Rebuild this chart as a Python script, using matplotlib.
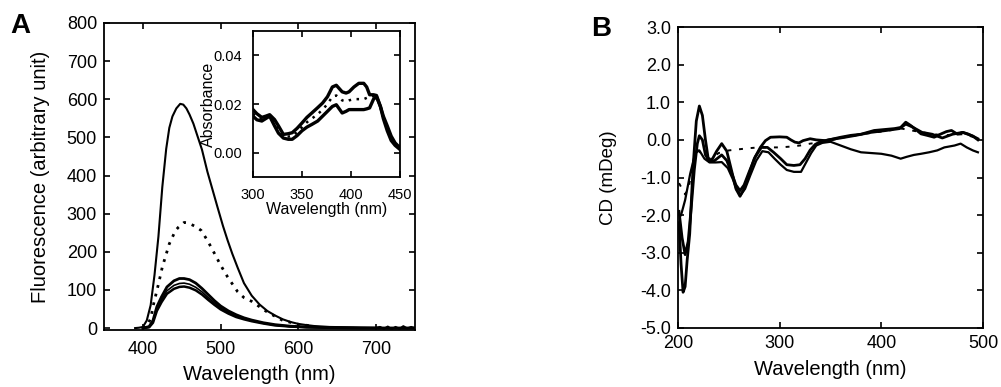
import matplotlib
matplotlib.use("Agg")
import matplotlib.pyplot as plt

plt.rcParams.update({
    "font.family": ["Liberation Sans", "DejaVu Sans"],
    "axes.linewidth": 1.3,
    "xtick.direction": "in",
    "ytick.direction": "in",
    "xtick.major.size": 4.5,
    "ytick.major.size": 4.5,
    "xtick.major.width": 1.2,
    "ytick.major.width": 1.2,
})

# ---- Panel A: fluorescence emission ----
wl_big = [390, 395, 400, 405, 410, 415, 420, 425, 430, 434, 438, 443, 448, 452, 456, 460,
          465, 470, 476, 483, 490, 496, 503, 509, 515, 522, 530, 540, 550, 560, 570, 580,
          590, 600, 610, 620, 640, 670, 700, 705, 710, 715, 720, 725, 730, 735, 740, 745, 750]
fl_big = [0, 1, 3, 20, 60, 140, 240, 370, 470, 525, 555, 576, 588, 586, 576, 560,
          536, 505, 468, 410, 360, 317, 268, 230, 195, 158, 118, 85, 62, 45, 33, 23,
          16, 11, 8, 5.5, 3, 2, 1, 3, -2, 4, -3, 3, -2, 5, -1, 3, 0]

wl_dot = [400, 405, 410, 414, 420, 425, 434, 442, 446, 453, 458, 462, 468, 475, 483, 492,
          500, 509, 522, 530, 540, 550, 560, 580, 600, 620]
fl_dot = [0, 5, 25, 65, 115, 160, 221, 256, 265, 277, 276, 272, 266, 256, 230, 196,
          165, 134, 95, 80, 70, 56, 42, 20, 10, 5]

wl_low = [400, 408, 413, 418, 424, 431, 440, 447, 453, 460, 468, 476, 484, 492, 500, 510,
          520, 530, 540, 555, 570, 590, 610, 640, 680, 720, 750]
fl_low1 = [0, 4, 20, 56, 82, 108, 124, 130, 130, 127, 118, 104, 88, 72, 58, 45,
           35, 27, 21, 14, 9, 5, 3, 1, 0, 0, 0]
fl_low2 = [0, 3, 17, 50, 74, 98, 112, 117, 118, 115, 107, 95, 80, 66, 53, 41,
           32, 25, 19, 13, 8, 4, 2, 1, 0, 0, 0]
fl_low3 = [0, 2, 14, 45, 68, 90, 103, 108, 109, 106, 99, 88, 74, 61, 49, 38,
           29, 23, 18, 12, 7, 4, 2, 1, 0, 0, 0]

# ---- Inset: absorbance ----
wl_abs = [300, 304, 309, 313, 317, 322, 326, 331, 336, 340, 345, 350, 355, 360, 366, 371,
          376, 381, 385, 391, 395, 398, 403, 408, 413, 416, 419, 423, 426, 430, 433, 437,
          441, 445, 450]
abs_up = [0.0177, 0.016, 0.0145, 0.015, 0.0156, 0.0136, 0.011, 0.0075, 0.0078, 0.0082,
          0.010, 0.0122, 0.0145, 0.0163, 0.0185, 0.0204, 0.023, 0.027, 0.0277, 0.025,
          0.0245, 0.025, 0.027, 0.0285, 0.0285, 0.027, 0.0238, 0.0238, 0.0235, 0.019,
          0.015, 0.011, 0.0068, 0.004, 0.002]
abs_lo = [0.015, 0.0135, 0.013, 0.014, 0.015, 0.011, 0.008, 0.006, 0.0055, 0.0055,
          0.007, 0.009, 0.0105, 0.0116, 0.013, 0.015, 0.017, 0.019, 0.0197, 0.0163,
          0.017, 0.0177, 0.0177, 0.0177, 0.0177, 0.018, 0.0184, 0.022, 0.023, 0.019,
          0.014, 0.009, 0.005, 0.003, 0.0013]
abs_dot = [0.016, 0.015, 0.0138, 0.0145, 0.0153, 0.0123, 0.0095, 0.0068, 0.0066, 0.0068,
           0.0085, 0.0105, 0.0125, 0.014, 0.0158, 0.0177, 0.020, 0.023, 0.0235, 0.0215,
           0.021, 0.0215, 0.022, 0.022, 0.022, 0.0225, 0.023, 0.0232, 0.023, 0.019,
           0.0145, 0.010, 0.006, 0.0035, 0.0017]

# ---- Panel B: CD spectra ----
wl_cd1 = [201, 203, 205, 207, 209, 211.5, 214.8, 218, 221, 224, 227, 230, 234, 238, 243,
          248, 253, 257, 261, 265, 270, 275, 281, 286, 291, 300, 307, 311, 315, 319, 323,
          330, 336, 345, 360, 370, 380, 393, 405, 413, 419, 424, 429, 435, 439, 445, 452,
          458, 464, 469, 475, 480, 485, 490, 495]
cd1 = [-2.2, -3.3, -4.05, -3.9, -3.2, -2.5, -0.73, 0.5, 0.9, 0.65, 0.0, -0.55, -0.5, -0.3,
       -0.1, -0.3, -0.85, -1.3, -1.5, -1.3, -0.9, -0.5, -0.2, -0.02, 0.07, 0.08, 0.07, 0.0,
       -0.06, -0.08, -0.02, 0.03, 0.0, -0.02, 0.07, 0.12, 0.15, 0.25, 0.28, 0.3, 0.33, 0.47,
       0.38, 0.25, 0.16, 0.12, 0.07, 0.15, 0.22, 0.25, 0.15, 0.2, 0.16, 0.1, 0.03]

wl_cd2 = [201, 204, 207, 210, 213, 216, 219, 221, 224, 227, 231, 236, 243, 248, 253, 257,
          261, 265, 270, 276, 282, 288, 294, 301, 307, 314, 320, 325, 330, 335, 340, 348,
          360, 375, 390, 405, 418, 424, 430, 440, 450, 460, 470, 480, 490, 495]
cd2 = [-1.9, -2.6, -3.05, -2.7, -1.8, -0.8, -0.1, 0.11, 0.0, -0.4, -0.58, -0.55, -0.4,
       -0.55, -0.9, -1.2, -1.35, -1.2, -0.85, -0.45, -0.2, -0.2, -0.33, -0.5, -0.66, -0.68,
       -0.66, -0.5, -0.27, -0.12, -0.05, 0.0, 0.05, 0.12, 0.2, 0.25, 0.3, 0.42, 0.35, 0.2,
       0.15, 0.05, 0.15, 0.2, 0.1, 0.0]

wl_cd3 = [203, 207, 212, 217, 221, 226, 231, 237, 243, 249, 254, 258, 262, 266, 271, 277,
          283, 289, 295, 301, 307, 314, 321, 326, 331, 336, 342, 350, 360, 370, 380, 390,
          400, 410, 419, 425, 432, 439, 447, 455, 462, 472, 478, 484, 490, 495]
cd3 = [-2.0, -1.6, -0.9, -0.35, -0.28, -0.5, -0.6, -0.6, -0.59, -0.75, -1.05, -1.35, -1.45,
       -1.3, -0.95, -0.55, -0.3, -0.33, -0.5, -0.66, -0.8, -0.85, -0.85, -0.6, -0.35, -0.15,
       -0.08, -0.05, -0.15, -0.25, -0.33, -0.35, -0.37, -0.42, -0.5, -0.45, -0.4, -0.37,
       -0.33, -0.28, -0.2, -0.15, -0.1, -0.2, -0.28, -0.33]

wl_cd4 = [201, 204, 207, 211, 215, 220, 226, 232, 240, 250, 260, 270, 280, 290, 300, 310,
          320, 330, 345, 360, 380, 400, 420, 440, 460, 480, 495]
cd4 = [-1.15, -1.3, -1.45, -1.2, -0.6, -0.28, -0.45, -0.5, -0.35, -0.28, -0.25, -0.22,
       -0.2, -0.2, -0.2, -0.18, -0.15, -0.1, -0.05, 0.05, 0.15, 0.22, 0.3, 0.2, 0.12, 0.15,
       0.05]

W, H = 1001, 387
fig = plt.figure(figsize=(W / 100, H / 100), dpi=100)

def box(x0, y0, x1, y1):
    # pixel box (top-left origin) -> figure fraction rect
    return [x0 / W, 1 - y1 / H, (x1 - x0) / W, (y1 - y0) / H]

dots = (0, (1, 2.2))

# Panel A
ax = fig.add_axes(box(104, 23, 415, 330))
ax.plot(wl_big, fl_big, color="black", lw=1.5)
ax.plot(wl_dot, fl_dot, color="black", lw=2, linestyle=dots)
ax.plot(wl_low, fl_low1, color="black", lw=2.0)
ax.plot(wl_low, fl_low2, color="black", lw=1.2)
ax.plot(wl_low, fl_low3, color="black", lw=1.8)
ax.set_xlim(350, 750)
ax.set_ylim(-5, 800)
ax.set_xticks([400, 500, 600, 700])
ax.set_yticks(range(0, 801, 100))
ax.tick_params(top=True, right=True, labelsize=13, pad=5)
ax.tick_params(axis="x", pad=8)
ax.set_xlabel("Wavelength (nm)", fontsize=14.5, labelpad=5)
ax.set_ylabel("Fluorescence (arbitrary unit)", fontsize=14.5, labelpad=12)
fig.text(10 / W, 1 - 33 / H, "A", fontsize=20, fontweight="bold", ha="left", va="baseline")

# Inset
axi = fig.add_axes(box(253, 31, 400, 177))
axi.plot(wl_abs, abs_up, color="black", lw=2.4)
axi.plot(wl_abs, abs_lo, color="black", lw=2.4)
axi.plot(wl_abs, abs_dot, color="black", lw=1.8, linestyle=dots)
axi.set_xlim(300, 450)
axi.set_ylim(-0.01, 0.05)
axi.set_xticks([300, 350, 400, 450])
axi.set_yticks([0.00, 0.02, 0.04])
axi.set_yticklabels(["0.00", "0.02", "0.04"])
axi.tick_params(top=True, right=True, labelsize=10.5, pad=8)
axi.set_xlabel("Wavelength (nm)", fontsize=11.5, labelpad=0)
axi.set_ylabel("Absorbance", fontsize=11.5, labelpad=-2)

# Panel B
bx = fig.add_axes(box(678, 27, 983, 328))
bx.plot(wl_cd1, cd1, color="black", lw=2.0)
bx.plot(wl_cd2, cd2, color="black", lw=2.0)
bx.plot(wl_cd3, cd3, color="black", lw=1.6)
bx.plot(wl_cd4, cd4, color="black", lw=1.4, linestyle=(0, (2, 4)))
bx.set_xlim(200, 500)
bx.set_ylim(-5, 3)
bx.set_xticks([200, 300, 400, 500])
bx.set_yticks([-5, -4, -3, -2, -1, 0, 1, 2, 3])
bx.set_yticklabels(["-5.0", "-4.0", "-3.0", "-2.0", "-1.0", "0.0", "1.0", "2.0", "3.0"])
bx.tick_params(top=True, right=True, labelsize=13, pad=5)
bx.set_xlabel("Wavelength (nm)", fontsize=14.5, labelpad=6)
bx.set_ylabel("CD (mDeg)", fontsize=13.5, labelpad=17)
fig.text(591 / W, 1 - 36 / H, "B", fontsize=20, fontweight="bold", ha="left", va="baseline")

fig.savefig("out.png", dpi=100)
